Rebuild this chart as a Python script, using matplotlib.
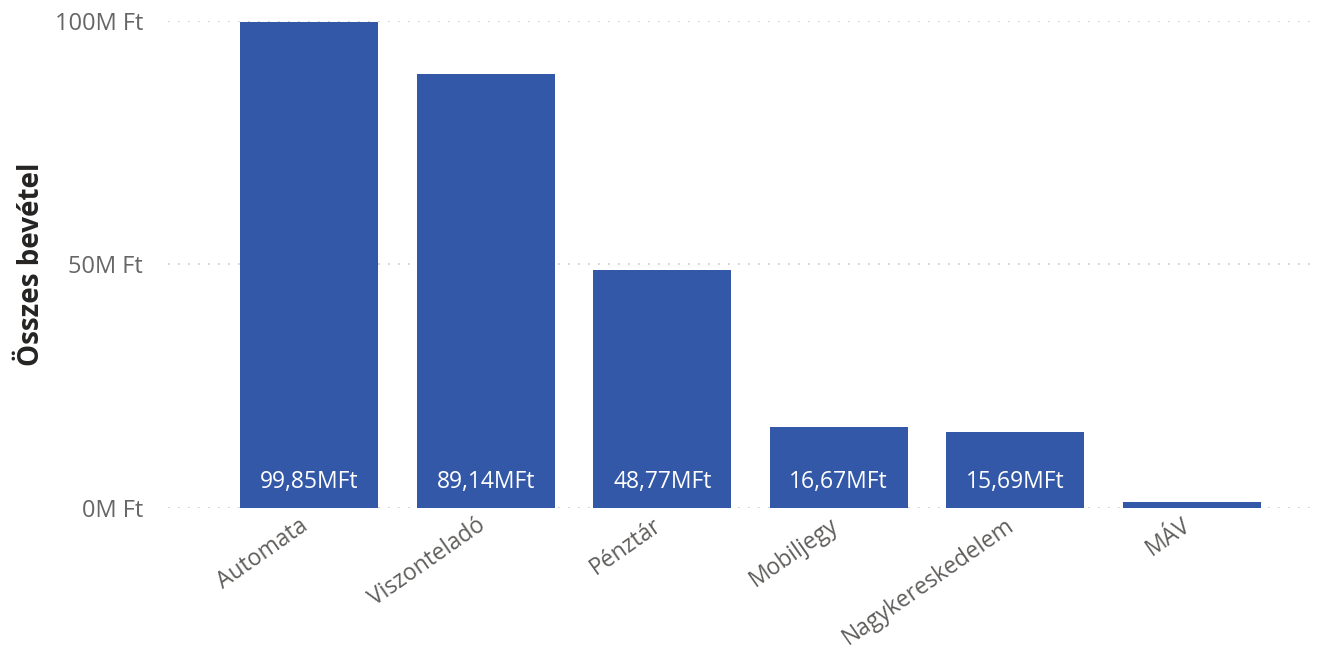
import matplotlib.pyplot as plt
import matplotlib.transforms as mtransforms
from matplotlib.ticker import FixedLocator

# Adatok
categories = ['Automata', 'Viszonteladó', 'Pénztár', 'Mobiljegy', 'Nagykereskedelem', 'MÁV']
values = [99.85, 89.14, 48.77, 16.67, 15.69, 1.25]  # millió Ft
labels = ['99,85MFt', '89,14MFt', '48,77MFt', '16,67MFt', '15,69MFt', '']
yticks = [0, 50, 100]
ytick_labels = ['0M Ft', '50M Ft', '100M Ft']

plt.rcParams['font.family'] = ['Open Sans', 'DejaVu Sans']

fig = plt.figure(figsize=(13.17, 6.53), dpi=100)
ax = fig.add_axes([0.1276, 0.222, 0.8684, 0.746])

x = list(range(len(categories)))
bars = ax.bar(x, values, width=0.78, color='#3358A8', zorder=2)

# Címkék a sávok alján
for xi, lab in zip(x, labels):
    ax.text(xi, 5.3, lab, ha='center', va='center', color='white', fontsize=16.5)

ax.set_xlim(-0.80, 5.68)
ax.set_ylim(0, 100)
ax.yaxis.set_major_locator(FixedLocator(yticks))
ax.set_yticklabels(ytick_labels, fontsize=17, color='#666666')
ax.set_xticks(x)
ax.set_xticklabels(categories, rotation=35, ha='right', rotation_mode='anchor',
                   fontsize=16.5, color='#605E5C')
ax.tick_params(axis='y', length=0, pad=18)
ax.tick_params(axis='x', length=0, pad=4)

# Feliratok eltolása balra
offset = mtransforms.ScaledTranslation(-10 / 100, 0, fig.dpi_scale_trans)
for t in ax.get_xticklabels():
    t.set_transform(t.get_transform() + offset)

ax.grid(axis='y', color='#C8C8C8', linestyle=(0, (1, 5)), linewidth=1.2, zorder=0)
for s in ax.spines.values():
    s.set_visible(False)

ax.set_ylabel('Összes bevétel', fontsize=20, fontweight='bold', color='#252423', labelpad=6)

fig.savefig('out.png', dpi=100)
